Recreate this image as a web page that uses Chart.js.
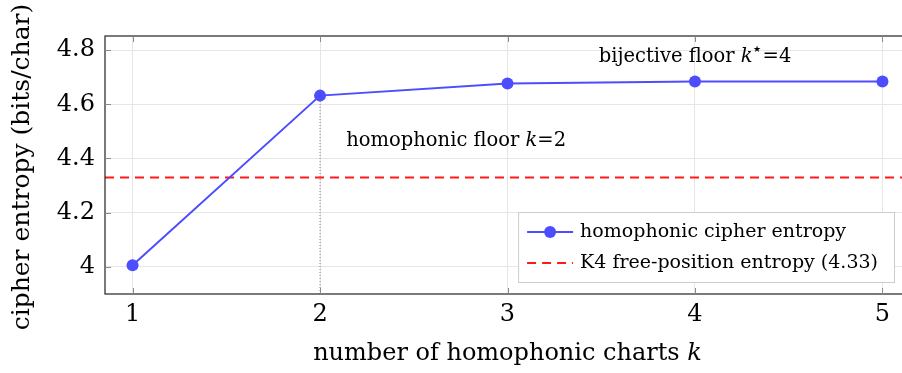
<!DOCTYPE html>
<html>
<head>
<meta charset="utf-8">
<script src="https://cdn.jsdelivr.net/npm/chart.js@4.4.1/dist/chart.umd.min.js"></script>
<style>
  html, body { margin: 0; padding: 0; overflow: hidden; background: #fff; }
  #wrap { width: 916px; height: 373px; }
</style>
</head>
<body>
<div id="wrap"><canvas id="chart" width="916" height="373"></canvas></div>
<script>
// data
const kValues = [1, 2, 3, 4, 5];
const entropy = [4.006, 4.632, 4.677, 4.684, 4.684];
const k4Entropy = 4.33;
const floorK = 2;        // homophonic floor
const bijectiveK = 4;    // bijective floor
const xMin = 0.853, xMax = 5.147;
const yMin = 3.9, yMax = 4.852;

const seriesLabels = ['homophonic cipher entropy', 'K4 free-position entropy (4.33)'];

const SERIF = '"DejaVu Serif", serif';
const BLUE = '#4d4dff';
const RED = '#ff1a1a';

// рисует кусочки текста подряд (обычный / курсив / верхний индекс)
function drawPieces(ctx, pieces, x, y, size) {
  let cx = x;
  for (const p of pieces) {
    const s = p.sup ? size * 0.48 : size;
    ctx.font = (p.italic ? 'italic ' : '') + s + 'px ' + SERIF;
    ctx.fillText(p.t, cx, p.sup ? y - size * 0.4 : y);
    cx += ctx.measureText(p.t).width + (p.sup ? 2 : 0);
  }
  return cx - x;
}
function piecesWidth(ctx, pieces, size) {
  let w = 0;
  for (const p of pieces) {
    const s = p.sup ? size * 0.48 : size;
    ctx.font = (p.italic ? 'italic ' : '') + s + 'px ' + SERIF;
    w += ctx.measureText(p.t).width + (p.sup ? 2 : 0);
  }
  return w;
}

const decorPlugin = {
  id: 'decor',
  afterDraw(chart) {
    const ctx = chart.ctx;
    const a = chart.chartArea;
    const xs = chart.scales.x, ys = chart.scales.y;
    ctx.save();

    // рамка
    ctx.strokeStyle = '#222';
    ctx.lineWidth = 1.2;
    ctx.strokeRect(a.left, a.top, a.right - a.left, a.bottom - a.top);

    // засечки внутрь со всех сторон
    ctx.strokeStyle = '#8a8a8a';
    ctx.lineWidth = 1;
    ctx.beginPath();
    for (const k of kValues) {
      const px = Math.round(xs.getPixelForValue(k)) + 0.5;
      ctx.moveTo(px, a.bottom); ctx.lineTo(px, a.bottom - 6);
      ctx.moveTo(px, a.top); ctx.lineTo(px, a.top + 6);
    }
    for (const t of ys.ticks) {
      const py = Math.round(ys.getPixelForValue(t.value)) + 0.5;
      ctx.moveTo(a.left, py); ctx.lineTo(a.left + 6, py);
      ctx.moveTo(a.right, py); ctx.lineTo(a.right - 6, py);
    }
    ctx.stroke();

    // подписи на графике
    ctx.fillStyle = '#000';
    ctx.textBaseline = 'middle';
    ctx.textAlign = 'left';
    drawPieces(ctx, [{ t: 'homophonic floor ' }, { t: 'k', italic: true }, { t: '=2' }],
      xs.getPixelForValue(floorK + 0.14), ys.getPixelForValue(4.465), 19.5);
    const bij = [{ t: 'bijective floor ' }, { t: 'k', italic: true }, { t: '★', sup: true }, { t: '=4' }];
    const bw = piecesWidth(ctx, bij, 19.5);
    drawPieces(ctx, bij, xs.getPixelForValue(bijectiveK) - bw / 2, ys.getPixelForValue(4.775), 19.5);

    // легенда
    ctx.font = '19px ' + SERIF;
    const tw = Math.max(...seriesLabels.map(s => ctx.measureText(s).width));
    const bRight = a.right - 16, bBottom = a.bottom - 12;
    const bWidth = 9 + 46 + 7 + tw + 16, bHeight = 70;
    const bLeft = bRight - bWidth, bTop = bBottom - bHeight;
    ctx.fillStyle = '#fff';
    ctx.fillRect(bLeft, bTop, bWidth, bHeight);
    ctx.strokeStyle = '#cccccc';
    ctx.lineWidth = 1;
    ctx.strokeRect(bLeft + 0.5, bTop + 0.5, bWidth, bHeight);
    const r1 = bTop + 20, r2 = bTop + 51;
    ctx.strokeStyle = BLUE; ctx.lineWidth = 2;
    ctx.beginPath(); ctx.moveTo(bLeft + 9, r1); ctx.lineTo(bLeft + 55, r1); ctx.stroke();
    ctx.fillStyle = BLUE;
    ctx.beginPath(); ctx.arc(bLeft + 32, r1, 6, 0, Math.PI * 2); ctx.fill();
    ctx.strokeStyle = RED; ctx.setLineDash([9, 6]);
    ctx.beginPath(); ctx.moveTo(bLeft + 9, r2); ctx.lineTo(bLeft + 55, r2); ctx.stroke();
    ctx.setLineDash([]);
    ctx.fillStyle = '#000';
    ctx.fillText(seriesLabels[0], bLeft + 62, r1);
    ctx.fillText(seriesLabels[1], bLeft + 62, r2);

    // подписи осей
    const xt = [{ t: 'number of homophonic charts ' }, { t: 'k', italic: true }];
    const xw = piecesWidth(ctx, xt, 24);
    drawPieces(ctx, xt, (a.left + a.right) / 2 - xw / 2, 354, 24);

    ctx.translate(22, (a.top + a.bottom) / 2 + 2);
    ctx.rotate(-Math.PI / 2);
    ctx.textAlign = 'center';
    ctx.font = '25px ' + SERIF;
    ctx.fillText('cipher entropy (bits/char)', 0, 0);

    ctx.restore();
  }
};

new Chart(document.getElementById('chart'), {
  type: 'line',
  data: {
    datasets: [
      {
        label: seriesLabels[0],
        data: kValues.map((k, i) => ({ x: k, y: entropy[i] })),
        borderColor: BLUE,
        backgroundColor: BLUE,
        borderWidth: 2,
        pointRadius: 6,
        pointBorderWidth: 0,
        order: 0
      },
      {
        label: seriesLabels[1],
        data: [{ x: xMin, y: k4Entropy }, { x: xMax, y: k4Entropy }],
        borderColor: RED,
        borderWidth: 2,
        borderDash: [9, 6],
        pointRadius: 0,
        order: 1
      },
      {
        label: 'floor',
        data: [{ x: floorK, y: yMin }, { x: floorK, y: entropy[kValues.indexOf(floorK)] }],
        borderColor: '#8a8a8a',
        borderWidth: 1,
        borderDash: [1, 2],
        pointRadius: 0,
        order: 2
      }
    ]
  },
  plugins: [decorPlugin],
  options: {
    responsive: false,
    animation: false,
    events: [],
    layout: { padding: { top: 36, right: 1, bottom: 0, left: 0 } },
    plugins: { legend: { display: false }, tooltip: { enabled: false } },
    scales: {
      x: {
        type: 'linear',
        min: xMin,
        max: xMax,
        afterFit(s) { s.height = 79; },
        grid: { color: '#e6e6e6', drawTicks: false },
        border: { display: false },
        ticks: {
          stepSize: 1,
          includeBounds: false,
          padding: 6,
          color: '#000',
          font: { family: SERIF, size: 24 }
        }
      },
      y: {
        min: yMin,
        max: yMax,
        afterFit(s) { s.width = 105; },
        grid: { color: '#e6e6e6', drawTicks: false },
        border: { display: false },
        ticks: {
          stepSize: 0.2,
          includeBounds: false,
          padding: 10,
          color: '#000',
          font: { family: SERIF, size: 24 },
          callback: v => String(Math.round(v * 10) / 10)
        }
      }
    }
  }
});
</script>
</body>
</html>
